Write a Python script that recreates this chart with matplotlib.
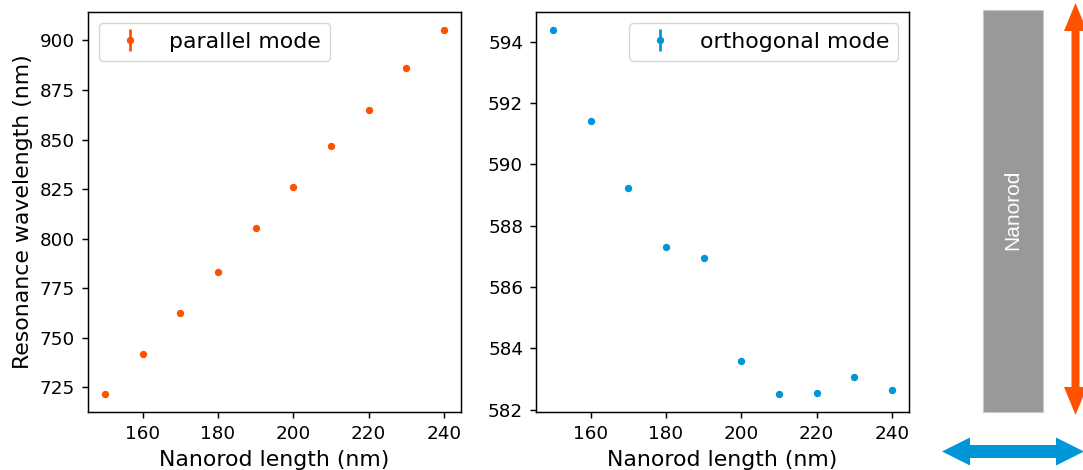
import numpy as np
import matplotlib
matplotlib.use('Agg')
import matplotlib.pyplot as plt
from matplotlib.patches import Rectangle, Polygon

# nanorod lengths (nm)
length = [150, 160, 170, 180, 190, 200, 210, 220, 230, 240]

# resonance wavelengths (nm)
parallel = [721.8, 741.8, 762.4, 783.2, 805.4, 825.9, 846.7, 865.1, 886.2, 905.2]
orthogonal = [594.37, 591.42, 589.23, 587.29, 586.93, 583.60, 582.52, 582.54, 583.07, 582.64]

parallel_err = [0.0] * len(length)
orthogonal_err = [0.0] * len(length)

orange = '#ff5200'
blue = '#0096d8'

W, H = 1083, 470
k = 1.32  # the original looks like a default-style figure saved at higher dpi
fig = plt.figure(figsize=(W / 100, H / 100), dpi=100)


def px_axes(x0, y0, x1, y1):
    return fig.add_axes([x0 / W, 1 - y1 / H, (x1 - x0) / W, (y1 - y0) / H])


ax1 = px_axes(88, 12, 461, 412)
ax2 = px_axes(536, 12, 909, 412)

ax1.errorbar(length, parallel, yerr=parallel_err, fmt='.', color=orange,
             ms=6.5 * k, elinewidth=1.5 * k, label='parallel mode')
ax2.errorbar(length, orthogonal, yerr=orthogonal_err, fmt='.', color=blue,
             ms=6.5 * k, elinewidth=1.5 * k, label='orthogonal mode')

ax1.set_yticks([725, 750, 775, 800, 825, 850, 875, 900])
ax2.set_yticks([582, 584, 586, 588, 590, 592, 594])
for ax in (ax1, ax2):
    ax.set_xticks([160, 180, 200, 220, 240])
    ax.tick_params(labelsize=10 * k, length=3.5 * k, pad=3.5 * k, width=0.8 * k)
    ax.set_xlabel('Nanorod length (nm)', fontsize=12 * k, labelpad=4 * k)
    for s in ax.spines.values():
        s.set_linewidth(0.8 * k)
ax1.set_ylabel('Resonance wavelength (nm)', fontsize=12 * k, labelpad=4 * k)
ax1.legend(loc='upper left', fontsize=12 * k)
ax2.legend(loc='upper right', fontsize=12 * k)

# sketch of the nanorod with the two polarisation directions
ax3 = fig.add_axes([0, 0, 1, 1], zorder=-1)
ax3.set_xlim(0, W)
ax3.set_ylim(H, 0)
ax3.axis('off')

ax3.add_patch(Rectangle((983, 10), 60, 402, facecolor='#999999',
                        edgecolor='#c8c8c8', lw=0.8))
ax3.text(1013, 210, 'Nanorod', rotation=90, color='white', ha='center',
         va='center', fontsize=15, family='Liberation Sans')


def double_arrow(c, a0, a1, shaft, head, head_len, vertical, color):
    s, h = shaft / 2, head / 2
    pts = [(a0, c), (a0 + head_len, c - h), (a0 + head_len, c - s),
           (a1 - head_len, c - s), (a1 - head_len, c - h), (a1, c),
           (a1 - head_len, c + h), (a1 - head_len, c + s),
           (a0 + head_len, c + s), (a0 + head_len, c + h)]
    if vertical:
        pts = [(y, x) for x, y in pts]
    ax3.add_patch(Polygon(pts, closed=True, facecolor=color, edgecolor='none'))


double_arrow(1075.5, 3, 415, 8, 23, 28, True, orange)
double_arrow(451.5, 942, 1084, 13, 28, 28, False, blue)

fig.savefig('out.png', dpi=100)
